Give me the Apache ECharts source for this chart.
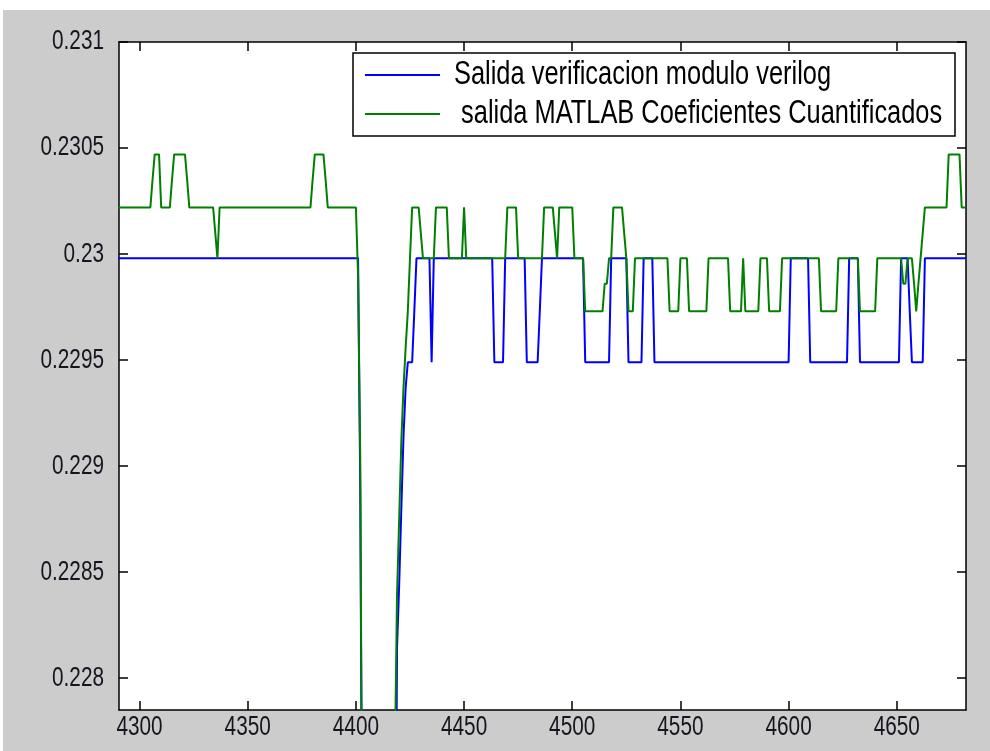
<!DOCTYPE html>
<html>
<head>
<meta charset="utf-8">
<script src="https://cdn.jsdelivr.net/npm/echarts@6/dist/echarts.min.js"></script>
<style>
  html, body { margin: 0; padding: 0; background: #ffffff; }
  #chart { width: 990px; height: 751px; }
</style>
</head>
<body>
<div id="chart"></div>
<script>
// Sample index ticks and output-level ticks
const xTicks = [4300, 4350, 4400, 4450, 4500, 4550, 4600, 4650];
const yTicks = [0.228, 0.2285, 0.229, 0.2295, 0.23, 0.2305, 0.231];

const seriesNames = ['Salida verificacion modulo verilog', ' salida MATLAB Coeficientes Cuantificados'];
const seriesColors = ['#0000ff', '#008000'];

// Verilog module output: [sample, value] vertices of the polyline
const verilogOut = [
  [4290, 0.22998], [4401, 0.22998], [4402, 0.22890], [4403, 0.22690], [4404, 0.22620],
  [4418, 0.22620], [4419, 0.22814], [4420, 0.22844], [4421, 0.22880], [4422, 0.22914],
  [4423, 0.22937], [4424, 0.22949], [4426, 0.22949], [4427, 0.22973], [4428, 0.22998],
  [4434, 0.22998], [4435, 0.22949], [4436, 0.22998],
  [4463, 0.22998], [4464, 0.22949], [4468, 0.22949], [4469, 0.22998],
  [4478, 0.22998], [4479, 0.22949], [4484, 0.22949], [4485, 0.22973], [4486, 0.22998],
  [4505, 0.22998], [4506, 0.22949], [4517, 0.22949], [4518, 0.22998],
  [4525, 0.22998], [4526, 0.22949], [4532, 0.22949], [4533, 0.22998],
  [4537, 0.22998], [4538, 0.22949], [4600, 0.22949], [4601, 0.22998],
  [4609, 0.22998], [4610, 0.22949], [4627, 0.22949], [4628, 0.22998],
  [4632, 0.22998], [4633, 0.22949], [4651, 0.22949], [4652, 0.22998],
  [4655, 0.22998], [4656, 0.22973], [4657, 0.22949], [4662, 0.22949], [4663, 0.22998],
  [4682, 0.22998]
];

// MATLAB reference with quantized coefficients: [sample, value] vertices
const matlabOut = [
  [4290, 0.23022], [4305, 0.23022], [4306, 0.23035], [4307, 0.23047], [4309, 0.23047], [4310, 0.23022],
  [4314, 0.23022], [4315, 0.23035], [4316, 0.23047], [4321, 0.23047], [4322, 0.23035], [4323, 0.23022],
  [4334, 0.23022], [4335, 0.23010], [4336, 0.22998], [4337, 0.23022],
  [4379, 0.23022], [4380, 0.23035], [4381, 0.23047], [4385, 0.23047], [4386, 0.23035], [4387, 0.23022],
  [4400, 0.23022], [4401, 0.22990], [4402, 0.22905], [4403, 0.22700], [4404, 0.22620],
  [4417, 0.22620], [4418, 0.22760], [4419, 0.22839], [4420, 0.22875], [4421, 0.22912],
  [4422, 0.22937], [4423, 0.22956], [4424, 0.22973], [4425, 0.22998], [4426, 0.23022],
  [4429, 0.23022], [4430, 0.23010], [4431, 0.22998],
  [4436, 0.22998], [4437, 0.23022], [4442, 0.23022], [4443, 0.22998],
  [4449, 0.22998], [4450, 0.23022], [4451, 0.22998],
  [4469, 0.22998], [4470, 0.23022], [4474, 0.23022], [4475, 0.22998],
  [4486, 0.22998], [4487, 0.23022], [4491, 0.23022], [4492, 0.23010], [4493, 0.22998], [4494, 0.23022],
  [4500, 0.23022], [4501, 0.22998],
  [4505, 0.22998], [4506, 0.22973],
  [4514, 0.22973], [4515, 0.22986], [4516, 0.22986], [4517, 0.22998], [4518, 0.22998], [4519, 0.23022],
  [4523, 0.23022], [4525, 0.22998], [4526, 0.22973], [4528, 0.22973], [4529, 0.22998],
  [4544, 0.22998], [4545, 0.22973], [4549, 0.22973], [4550, 0.22998],
  [4553, 0.22998], [4554, 0.22973], [4562, 0.22973], [4563, 0.22998],
  [4572, 0.22998], [4573, 0.22973], [4578, 0.22973], [4579, 0.22998], [4580, 0.22973],
  [4586, 0.22973], [4587, 0.22998], [4590, 0.22998], [4591, 0.22973],
  [4596, 0.22973], [4597, 0.22998], [4614, 0.22998], [4615, 0.22973],
  [4622, 0.22973], [4623, 0.22998], [4632, 0.22998], [4633, 0.22973],
  [4640, 0.22973], [4641, 0.22998], [4652, 0.22998], [4653, 0.22986], [4654, 0.22986], [4655, 0.22998],
  [4657, 0.22998], [4658, 0.22986], [4659, 0.22973], [4660, 0.22986], [4661, 0.22998], [4662, 0.23010],
  [4663, 0.23022], [4673, 0.23022], [4674, 0.23047], [4679, 0.23047], [4680, 0.23022], [4682, 0.23022]
];

const FONT_FAMILY = '"Liberation Sans", Arial, sans-serif';
const TEXT_COLOR = '#15151f';
// The figure's lettering is tall and narrow: draw it horizontally condensed
const CONDENSE = 0.77;
const TICK_FONT = 27;
const LEGEND_FONT = 33;

const X_MIN = 4290.5, X_MAX = 4682;
const Y_MIN = 0.22785, Y_MAX = 0.231;

const axisLine = { show: true, onZero: false, lineStyle: { color: '#000000', width: 1.5 } };

function xAxisDef(pos) {
  return {
    type: 'value', position: pos, min: X_MIN, max: X_MAX,
    axisLine: axisLine,
    axisTick: { show: true, inside: true, length: 9, customValues: xTicks, lineStyle: { color: '#000000', width: 1.5 } },
    axisLabel: { show: false },
    splitLine: { show: false }
  };
}

function yAxisDef(pos) {
  return {
    type: 'value', position: pos, min: Y_MIN, max: Y_MAX,
    axisLine: axisLine,
    axisTick: { show: true, inside: true, length: 9, customValues: yTicks, lineStyle: { color: '#000000', width: 1.5 } },
    axisLabel: { show: false },
    splitLine: { show: false }
  };
}

const chart = echarts.init(document.getElementById('chart'), null, { renderer: 'canvas' });

chart.setOption({
  animation: false,
  backgroundColor: '#cccccc',
  grid: {
    left: 119, right: 24, top: 42, bottom: 41,
    show: true, backgroundColor: '#ffffff', borderWidth: 0
  },
  xAxis: [xAxisDef('bottom'), xAxisDef('top')],
  yAxis: [yAxisDef('left'), yAxisDef('right')],
  series: [
    {
      name: seriesNames[0], type: 'line', xAxisIndex: 0, yAxisIndex: 0,
      data: verilogOut, symbol: 'none', clip: true, z: 2,
      lineStyle: { color: seriesColors[0], width: 2 }, itemStyle: { color: seriesColors[0] }
    },
    {
      name: seriesNames[1], type: 'line', xAxisIndex: 0, yAxisIndex: 0,
      data: matlabOut, symbol: 'none', clip: true, z: 3,
      lineStyle: { color: seriesColors[1], width: 2 }, itemStyle: { color: seriesColors[1] }
    }
  ]
});

// Tick labels placed through the axes' own scales
const labelEls = [];
xTicks.forEach(v => {
  const px = chart.convertToPixel({ xAxisIndex: 0 }, v);
  labelEls.push({
    type: 'text', x: px, y: 728, scaleX: CONDENSE, silent: true, z: 10,
    style: { text: String(v), fontSize: TICK_FONT, fontFamily: FONT_FAMILY, fill: TEXT_COLOR, align: 'center', verticalAlign: 'middle' }
  });
});
yTicks.forEach(v => {
  const py = chart.convertToPixel({ yAxisIndex: 0 }, v);
  labelEls.push({
    type: 'text', x: 104, y: py, scaleX: CONDENSE, silent: true, z: 10,
    style: { text: String(v), fontSize: TICK_FONT, fontFamily: FONT_FAMILY, fill: TEXT_COLOR, align: 'right', verticalAlign: 'middle' }
  });
});

// Legend box in the upper right of the axes
const legendEls = [
  { type: 'rect', silent: true, z: 20, shape: { x: 353, y: 53, width: 602, height: 83 },
    style: { fill: '#ffffff', stroke: '#000000', lineWidth: 1.5 } }
];
seriesNames.forEach((name, i) => {
  const cy = 75 + i * 39;
  legendEls.push({ type: 'line', silent: true, z: 21, shape: { x1: 365, y1: cy, x2: 440, y2: cy },
    style: { stroke: seriesColors[i], lineWidth: 2 } });
  legendEls.push({ type: 'text', silent: true, z: 21, x: 454, y: cy, scaleX: CONDENSE,
    style: { text: name, fontSize: LEGEND_FONT, fontFamily: FONT_FAMILY, fill: '#000000', align: 'left', verticalAlign: 'middle' } });
});

chart.setOption({
  graphic: { elements: [
    { type: 'rect', silent: true, shape: { x: 0, y: 0, width: 990, height: 10 }, style: { fill: '#ffffff' } },
    { type: 'rect', silent: true, shape: { x: 0, y: 0, width: 3, height: 751 }, style: { fill: '#ffffff' } }
  ].concat(labelEls, legendEls) }
});
</script>
</body>
</html>
